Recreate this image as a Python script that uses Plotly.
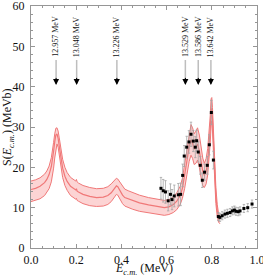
import plotly.graph_objects as go

# ---- band (R-matrix fit) ----
E_curve = [0.00, 0.02, 0.04, 0.06, 0.07, 0.08, 0.09, 0.095, 0.10, 0.105, 0.11, 0.115, 0.12, 0.125, 0.13,
           0.14, 0.15, 0.16, 0.175, 0.19, 0.198, 0.201, 0.204, 0.21, 0.23, 0.26, 0.29, 0.32, 0.34, 0.355,
           0.365, 0.372, 0.378, 0.384, 0.39, 0.397, 0.405, 0.415, 0.43, 0.45, 0.48, 0.52, 0.56, 0.59, 0.61,
           0.63, 0.645, 0.66, 0.67, 0.68, 0.69, 0.70, 0.708, 0.715, 0.722, 0.73, 0.737, 0.745, 0.752, 0.76,
           0.767, 0.775, 0.782, 0.788, 0.793, 0.797, 0.80, 0.803, 0.807, 0.812, 0.818, 0.824, 0.83, 0.836]
S_mid = [14.5, 14.8, 15.3, 16.2, 17.0, 18.2, 20.2, 21.8, 24.0, 26.3, 28.0, 28.3, 27.2, 25.2, 23.0,
         19.8, 17.8, 16.5, 15.3, 14.6, 14.4, 14.7, 14.1, 13.9, 13.3, 12.8, 12.5, 12.6, 13.0, 13.7,
         14.5, 15.1, 15.4, 15.2, 14.6, 13.8, 13.1, 12.5, 12.2, 11.8, 11.2, 10.7, 10.2, 10.0, 10.2,
         10.8, 11.6, 13.0, 14.8, 17.8, 21.6, 25.2, 26.8, 26.0, 24.5, 25.0, 25.8, 24.0, 21.5, 19.0,
         18.0, 19.0, 21.5, 25.0, 29.5, 33.8, 34.6, 32.0, 26.0, 19.0, 13.0, 9.3, 7.5, 7.0]
S_up = [16.6, 16.9, 17.4, 18.3, 19.1, 20.3, 22.4, 24.0, 26.2, 28.3, 29.7, 29.8, 29.0, 27.3, 25.3,
        22.0, 20.0, 18.7, 17.5, 16.8, 16.6, 17.0, 16.4, 16.1, 15.5, 15.0, 14.7, 14.8, 15.2, 15.9,
        16.6, 17.1, 17.3, 17.1, 16.6, 15.9, 15.2, 14.6, 14.2, 13.7, 13.1, 12.5, 12.0, 11.8, 12.0,
        12.7, 13.7, 15.3, 17.3, 20.8, 25.0, 28.8, 30.6, 29.8, 28.3, 29.0, 29.8, 28.0, 25.3, 22.3,
        21.0, 22.2, 24.7, 28.3, 32.8, 37.0, 37.3, 34.8, 29.0, 21.7, 15.0, 10.8, 8.5, 8.0]
S_low = [11.5, 11.8, 12.2, 13.0, 13.7, 14.7, 16.4, 17.8, 19.8, 22.3, 24.8, 25.8, 25.0, 23.0, 20.8,
         17.5, 15.5, 14.3, 13.0, 12.3, 12.1, 12.3, 11.8, 11.6, 11.0, 10.5, 10.3, 10.4, 10.8, 11.5,
         12.3, 12.9, 13.3, 13.1, 12.5, 11.7, 11.0, 10.4, 10.0, 9.6, 9.1, 8.7, 8.3, 8.1, 8.3,
         8.8, 9.5, 10.8, 12.3, 14.8, 18.2, 21.5, 23.0, 22.2, 20.7, 21.0, 21.8, 20.0, 17.6, 15.5,
         15.0, 15.9, 18.2, 21.5, 26.0, 30.5, 31.5, 29.0, 23.0, 16.3, 11.0, 7.8, 6.4, 6.0]

# ---- experimental data ----
E_data = [0.575, 0.585, 0.595, 0.607, 0.617, 0.624, 0.634, 0.652, 0.662, 0.671, 0.678, 0.689, 0.699,
          0.708, 0.718, 0.727, 0.733, 0.740, 0.749, 0.758, 0.768, 0.780, 0.789, 0.798, 0.807, 0.829,
          0.836, 0.846, 0.858, 0.869, 0.881, 0.891, 0.900, 0.907, 0.917, 0.925, 0.942, 0.959, 0.978]
S_data = [14.8, 14.2, 13.9, 11.7, 13.3, 12.0, 12.9, 13.2, 13.3, 18.0, 22.8, 25.0, 26.3,
          28.2, 26.5, 25.0, 26.6, 23.8, 20.5, 16.8, 18.8, 20.5, 25.6, 33.6, 21.8, 7.8,
          7.6, 8.0, 8.4, 8.6, 8.8, 9.2, 9.4, 9.1, 9.0, 9.2, 9.8, 10.0, 10.9]
S_err = [2.7, 2.8, 2.8, 2.5, 2.6, 2.5, 2.7, 2.8, 2.8, 2.8, 2.6, 2.7, 2.8,
         3.0, 2.6, 2.6, 2.6, 2.5, 2.2, 1.8, 2.0, 2.2, 2.5, 3.0, 2.2, 1.0,
         1.0, 1.0, 1.0, 1.0, 1.0, 1.0, 1.0, 1.0, 1.0, 1.0, 1.0, 1.0, 1.0]

# ---- resonance markers ----
level_labels = ["12.957 MeV", "13.048 MeV", "13.226 MeV", "13.529 MeV", "13.586 MeV", "13.642 MeV"]
level_E = [0.111, 0.202, 0.380, 0.683, 0.740, 0.796]

FONT = "Liberation Serif, Times New Roman, serif"
RED = "rgb(240,120,120)"
FILL = "rgb(252,212,212)"
GRAY = "rgb(150,150,150)"

fig = go.Figure()
fig.add_trace(go.Scatter(x=E_curve, y=S_low, mode="lines", line=dict(color=RED, width=1),
                         showlegend=False, hoverinfo="skip"))
fig.add_trace(go.Scatter(x=E_curve, y=S_up, mode="lines", line=dict(color=RED, width=1),
                         fill="tonexty", fillcolor=FILL, showlegend=False, hoverinfo="skip"))
fig.add_trace(go.Scatter(x=E_curve, y=S_mid, mode="lines", line=dict(color=RED, width=1.2),
                         showlegend=False))
fig.add_trace(go.Scatter(x=E_data, y=S_data, mode="markers",
                         marker=dict(symbol="square", size=3, color="black"),
                         error_y=dict(type="data", array=S_err, color="rgb(165,165,165)",
                                      thickness=0.8, width=1.2),
                         showlegend=False))

for e, lab in zip(level_E, level_labels):
    fig.add_annotation(x=e, y=42.3, ax=e, ay=47.0, xref="x", yref="y", axref="x", ayref="y",
                       text="", showarrow=True, arrowhead=0, arrowwidth=1.5,
                       arrowcolor="rgb(190,190,190)")
    fig.add_annotation(x=e, y=40.4, ax=e, ay=42.6, xref="x", yref="y", axref="x", ayref="y",
                       text="", showarrow=True, arrowhead=2, arrowsize=1, arrowwidth=1.2,
                       arrowcolor="black")
    fig.add_annotation(x=e, y=52.4, xref="x", yref="y", text=lab, showarrow=False,
                       textangle=-90, font=dict(family=FONT, size=8, color="#111"))

# axis titles
fig.add_annotation(x=0.5, y=0, xref="paper", yref="paper", yshift=-21, yanchor="middle",
                   text="<i>E</i><sub><i>c.m.</i></sub> (MeV)", showarrow=False,
                   font=dict(family=FONT, size=12, color="#111"))
fig.add_annotation(x=0, y=0.5, xref="paper", yref="paper", xshift=-23, xanchor="center",
                   text="S(<i>E</i><sub><i>c.m.</i></sub>) (MeVb)", showarrow=False, textangle=-90,
                   font=dict(family=FONT, size=12, color="#111"))

axis_common = dict(showline=True, linecolor=GRAY, linewidth=1, mirror="allticks",
                   ticks="inside", ticklen=4, tickcolor=GRAY, showgrid=False, automargin=False,
                   zeroline=False, ticklabeloverflow="allow",
                   tickfont=dict(family=FONT, size=12, color="#111"))
fig.update_xaxes(range=[0, 1.0], dtick=0.2, tickformat=".1f", ticklabelstandoff=1,
                 minor=dict(dtick=0.05, ticks="inside", ticklen=2, tickcolor=GRAY),
                 **axis_common)
fig.update_yaxes(range=[0, 60], dtick=10, ticklabelstandoff=3,
                 minor=dict(dtick=2, ticks="inside", ticklen=2, tickcolor=GRAY),
                 **axis_common)
fig.update_layout(width=263, height=276, margin=dict(l=31, r=6, t=6, b=28),
                  paper_bgcolor="white", plot_bgcolor="white", showlegend=False)
fig.write_html("out.html", config={"displayModeBar": False},
               post_script="document.body.style.margin='0';document.body.style.padding='0';")
